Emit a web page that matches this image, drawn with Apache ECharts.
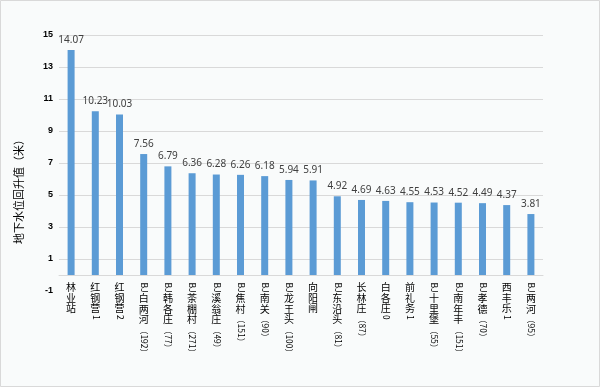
<!DOCTYPE html>
<html><head><meta charset="utf-8">
<script src="https://cdn.jsdelivr.net/npm/echarts@6/dist/echarts.min.js"></script>
<style>html,body{margin:0;padding:0;background:#f9fbfb;}#c{width:600px;height:387px;}</style>
</head><body><div id="c"></div>
<script>
const categories = ['林业站','红钢营1','红钢营2','BJ白两河（192）','BJ韩各庄（77）','BJ茶棚村（271）','BJ溪翁庄（49）','BJ焦村（151）','BJ南关（90）','BJ龙王头（100）','向阳闸','BJ东沿头（81）','长林庄（87）','白各庄0','前礼务1','BJ十里堡（55）','BJ南年丰（151）','BJ孝德（70）','西丰乐1','BJ两河（95）'];
const values = [14.07,10.23,10.03,7.56,6.79,6.36,6.28,6.26,6.18,5.94,5.91,4.92,4.69,4.63,4.55,4.53,4.52,4.49,4.37,3.81];
const yMin = -1, yMax = 15, yStep = 2;
const yName = '地下水位回升值（米）';

const FONT_CJK = '"Noto Sans CJK SC","Microsoft YaHei",sans-serif';
const cjkSize = 10, cjkStep = 10.8, latSize = 8.5;
const mctx = document.createElement('canvas').getContext('2d');
function measure(t, size){ mctx.font = size + 'px ' + FONT_CJK; return mctx.measureText(t).width; }
function splitRuns(s){
  const runs = []; let cur = null;
  for (const ch of s) {
    const cjk = /[\u4e00-\u9fff]/.test(ch);
    if (cjk) { runs.push({cjk:true, t:ch}); cur = null; }
    else { if (!cur) { cur = {cjk:false, t:''}; runs.push(cur); } cur.t += ch; }
  }
  return runs;
}

const chart = echarts.init(document.getElementById('c'));
chart.setOption({
  backgroundColor: '#f9fbfb',
  animation: false,
  graphic: [{type:'rect', shape:{x:0.5,y:0.5,width:599,height:386}, style:{fill:'none', stroke:'#d9d9d9', lineWidth:1}, silent:true}],
  grid: {left:59, right:57, top:35, bottom:96},
  xAxis: {
    type:'category', data:categories,
    axisLine:{onZero:true, lineStyle:{color:'#d9d9d9'}},
    axisTick:{show:false}, axisLabel:{show:false}
  },
  yAxis: {
    type:'value', min:yMin, max:yMax, interval:yStep,
    name:yName, nameLocation:'middle', nameGap:35, nameRotate:90,
    nameTextStyle:{fontFamily:FONT_CJK, fontSize:11, color:'#000', padding:[0,52,0,0]},
    axisLine:{show:false}, axisTick:{show:false},
    axisLabel:{fontSize:9, fontWeight:'bold', color:'#000', margin:6, fontFamily:'Liberation Sans, Arial'},
    splitLine:{lineStyle:{color:['rgba(0,0,0,0)','#d9d9d9','#d9d9d9','#d9d9d9','#d9d9d9','#d9d9d9','#d9d9d9','#d9d9d9','#d9d9d9'], width:1}}
  },
  series: [{
    type:'bar', data:values, barWidth:7,
    itemStyle:{color:'#5b9bd5'},
    label:{show:true, position:'top', distance:5, fontSize:10, color:'#404040', fontFamily:'"Noto Sans","DejaVu Sans",sans-serif'}
  },{
    type:'custom', data:categories.map((c,i)=>[i,0]), clip:false, silent:true, z:10,
    renderItem: function(params, api){
      const i = params.dataIndex;
      const p = api.coord([i, 0]);
      let y = p[1] + 7;
      const x = p[0];
      const children = [];
      for (const r of splitRuns(categories[i])) {
        if (r.cjk) {
          children.push({type:'text', x:x, y:y, style:{text:r.t, fontSize:cjkSize, fontFamily:FONT_CJK, fill:'#000', align:'center', verticalAlign:'top'}});
          y += cjkStep;
        } else {
          const w = measure(r.t, latSize);
          children.push({type:'text', x:x + 0.5, y:y + 0.5, rotation:-Math.PI/2, style:{text:r.t, fontSize:latSize, fontFamily:FONT_CJK, fill:'#000', align:'left', verticalAlign:'middle'}});
          y += w + 1;
        }
      }
      return {type:'group', children:children};
    }
  }]
});
</script></body></html>
